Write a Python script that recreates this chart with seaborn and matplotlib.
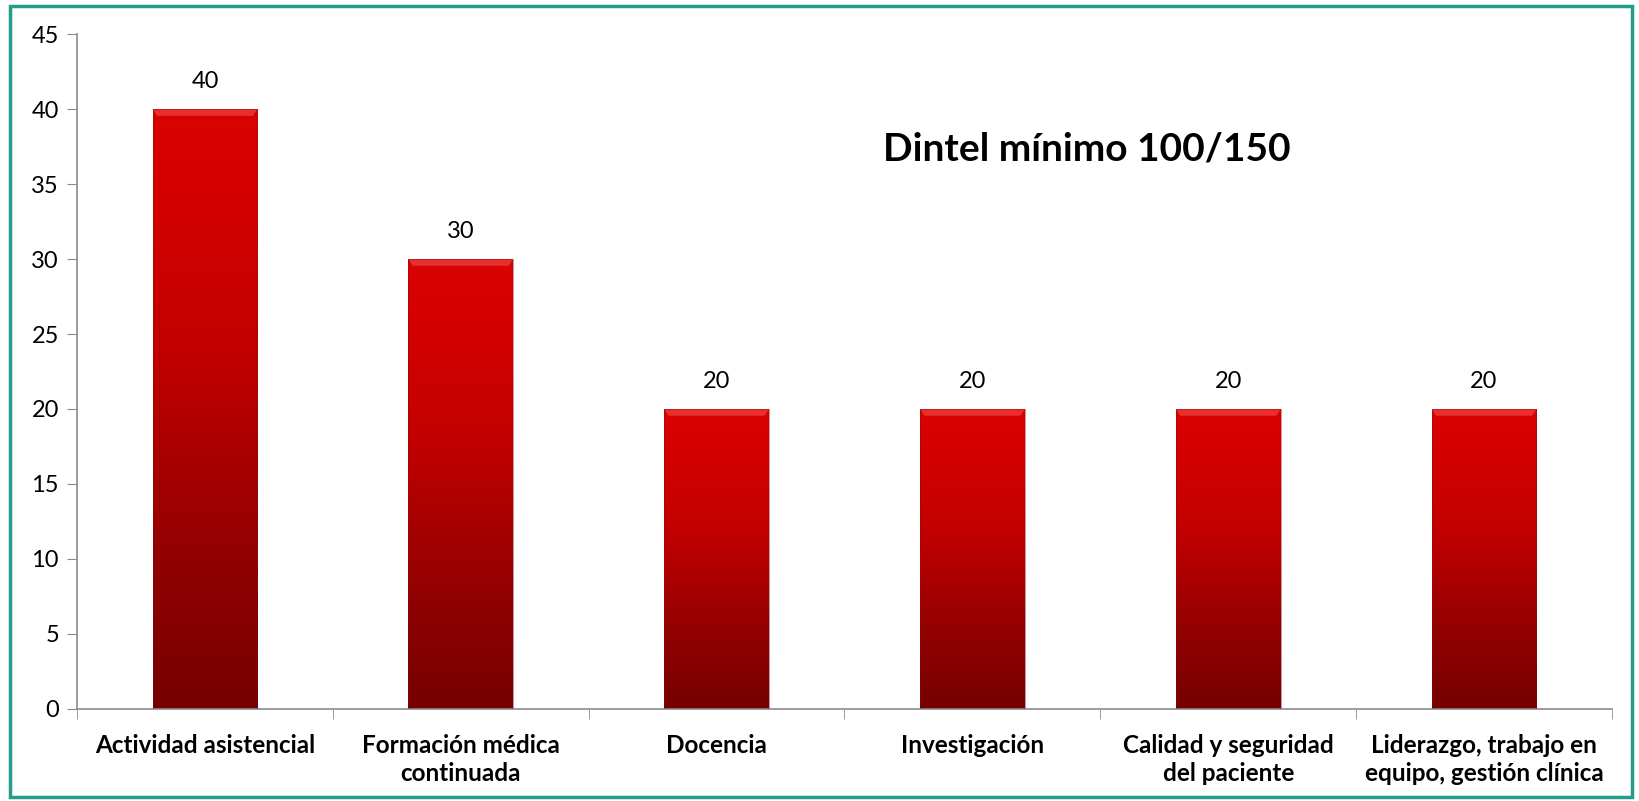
import numpy as np
import pandas as pd
import matplotlib.pyplot as plt
import seaborn as sns
from matplotlib.colors import LinearSegmentedColormap
from matplotlib.patches import Rectangle, Polygon

categorias = ['Actividad asistencial', 'Formación médica\ncontinuada', 'Docencia',
              'Investigación', 'Calidad y seguridad\ndel paciente',
              'Liderazgo, trabajo en\nequipo, gestión clínica']
puntos = [40, 30, 20, 20, 20, 20]
titulo = 'Dintel mínimo 100/150'

df = pd.DataFrame({'categoria': categorias, 'puntos': puntos})

sns.set_style('white')
plt.rcParams['font.family'] = ['Lato', 'DejaVu Sans']

fig = plt.figure(figsize=(16.39, 8.01), dpi=100)
ax = fig.add_axes([0.047, 0.115, 0.9365, 0.8424])

sns.barplot(data=df, x='categoria', y='puntos', color='#c00000', width=0.41, ax=ax,
            saturation=1)

# degradado rojo en cada barra
cmap = LinearSegmentedColormap.from_list(
    'rojo', [(0, '#760000'), (0.3, '#980000'), (0.6, '#c20000'), (0.85, '#d40000'), (1, '#d80404')])
grad = np.linspace(0, 1, 256).reshape(-1, 1)
for p in ax.patches:
    x0, w, h = p.get_x(), p.get_width(), p.get_height()
    p.set_facecolor('none')
    p.set_edgecolor('none')
    im = ax.imshow(grad, cmap=cmap, aspect='auto', origin='lower',
                   extent=[x0, x0 + w, 0, h], zorder=2)
    im.set_clip_path(p)
    # bisel superior
    bh = 0.45
    bw = 0.018
    ax.add_patch(Polygon([[x0, h], [x0 + w, h], [x0 + w - bw, h - bh], [x0 + bw, h - bh]],
                         closed=True, facecolor='#ee3a3a', edgecolor='none', alpha=0.8, zorder=3))
    ax.add_patch(Rectangle((x0, 0), w, h, facecolor='none', edgecolor='#7a1010',
                           linewidth=0.6, alpha=0.5, zorder=3))
    ax.annotate(f'{int(h)}', (x0 + w / 2, h), xytext=(0, 12), textcoords='offset points',
                ha='center', va='bottom', fontsize=17, color='black')

ax.set_xlim(-0.5, len(categorias) - 0.5)
ax.set_ylim(0, 45)
ax.set_yticks(range(0, 46, 5))
ax.set_xticks(range(len(categorias)))
ax.set_xticklabels(categorias, fontsize=17.5, fontweight='bold', linespacing=1.25, color='black')
ax.set_xticks(np.arange(-0.5, len(categorias), 1), minor=True)
ax.tick_params(axis='x', which='major', length=0, pad=18)
ax.tick_params(axis='x', which='minor', length=7, color='#8c8c8c', direction='out', bottom=True)
ax.tick_params(axis='y', length=7, color='#8c8c8c', direction='out', left=True, labelsize=17,
               pad=6, labelcolor='black')
ax.set_xlabel('')
ax.set_ylabel('')

for s in ['top', 'right']:
    ax.spines[s].set_visible(False)
for s in ['left', 'bottom']:
    ax.spines[s].set_color('#8c8c8c')
    ax.spines[s].set_linewidth(1.2)

ax.text(0.658, 0.83, titulo, transform=ax.transAxes, ha='center', va='center',
        fontsize=28, fontweight='bold', color='black')

fig.patches.append(Rectangle((0.006, 0.005), 0.99, 0.988, transform=fig.transFigure,
                             fill=False, edgecolor='#239c8c', linewidth=2.5))

plt.savefig('out.png', dpi=100)
